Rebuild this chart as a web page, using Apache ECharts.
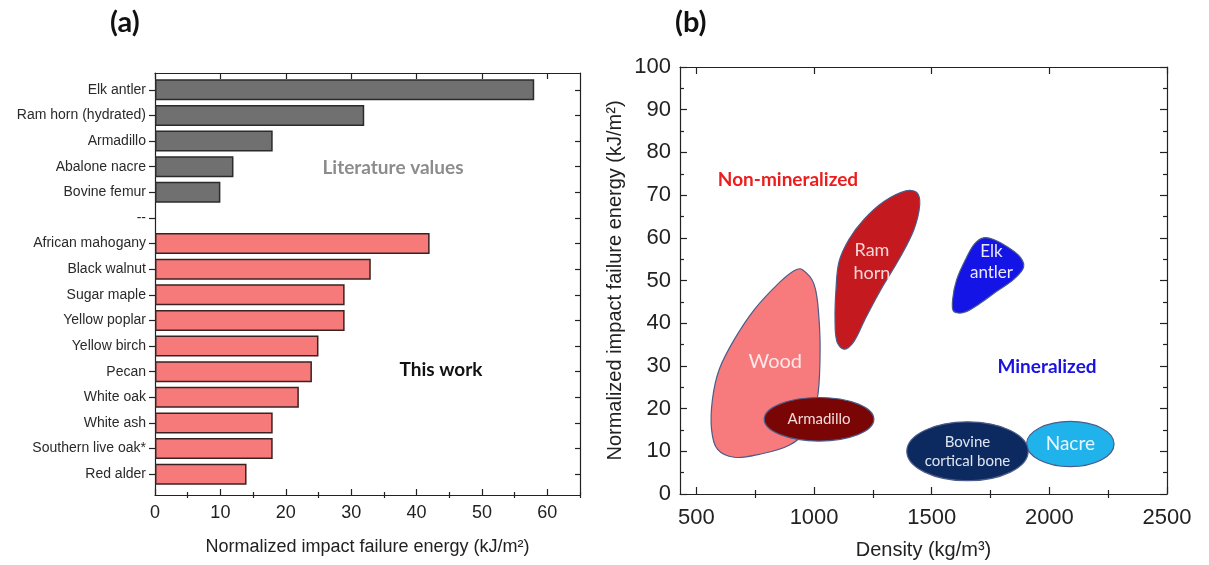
<!DOCTYPE html>
<html>
<head>
<meta charset="utf-8">
<script src="https://cdn.jsdelivr.net/npm/echarts@6/dist/echarts.min.js"></script>
<style>
  html, body { margin: 0; padding: 0; background: #ffffff; }
  #chart { width: 1209px; height: 565px; }
</style>
</head>
<body>
<div id="chart"></div>
<script>
// ---- Panel (a): normalized impact failure energy (kJ/m²) ----
const literatureNames = ['Elk antler', 'Ram horn (hydrated)', 'Armadillo', 'Abalone nacre', 'Bovine femur'];
const literatureValues = [58, 32, 18, 12, 10];
const separatorName = '--';
const thisWorkNames = ['African mahogany', 'Black walnut', 'Sugar maple', 'Yellow poplar', 'Yellow birch',
  'Pecan', 'White oak', 'White ash', 'Southern live oak*', 'Red alder'];
const thisWorkValues = [42, 33, 29, 29, 25, 24, 22, 18, 18, 14];
const energyTicks = [0, 10, 20, 30, 40, 50, 60];
const energyMinorTicks = [5, 15, 25, 35, 45, 55, 65];

// ---- Panel (b): regions in (density kg/m³, energy kJ/m²) ----
const densityTicks = [500, 1000, 1500, 2000, 2500];
const densityMinorTicks = [750, 1250, 1750, 2250];
const woodOutline = [[949, 52.6], [1000, 49.1], [1021, 40.9], [1025, 31.5], [1013, 22.2], [970, 15.2],
  [894, 11.4], [767, 9.3], [661, 8.6], [589, 10.5], [564, 15.2], [568, 22.2], [597, 29.2],
  [661, 36.2], [746, 43.2], [852, 49.5], [915, 52.3]];
const ramHornOutline = [[1390, 71.0], [1436, 70.6], [1449, 67.8], [1424, 61.9], [1360, 54.9], [1284, 47.9],
  [1216, 40.9], [1169, 35.7], [1127, 33.9], [1097, 35.7], [1089, 40.9], [1093, 47.9], [1106, 54.4],
  [1148, 59.6], [1212, 64.3], [1297, 68.5]];
const elkAntlerOutline = [[1720, 60.0], [1763, 59.6], [1826, 57.7], [1877, 55.4], [1890, 53.0], [1847, 50.2],
  [1775, 47.4], [1699, 44.4], [1636, 42.5], [1593, 42.8], [1589, 45.6], [1606, 50.2], [1648, 55.4], [1682, 58.6]];
// ellipses: [centre density, centre energy, half width, half height]
const armadilloEllipse = [1021, 17.5, 233, 5.1];
const nacreEllipse = [2089, 11.7, 186, 5.3];
const bovineBoneEllipse = [1652, 10.0, 258, 6.9];

const categories = [...literatureNames, separatorName, ...thisWorkNames];
const literatureSeries = literatureValues.concat(new Array(1 + thisWorkNames.length).fill('-'));
const thisWorkSeries = new Array(literatureNames.length + 1).fill('-').concat(thisWorkValues);

const AXIS_FONT = "'Liberation Sans', Arial, sans-serif";
const NOTE_FONT = "Lato, 'Open Sans', sans-serif";
const OUTLINE = '#4b5c8a';
const plain = v => String(v);

function tickAxis(gridIndex, position, min, max, ticks, len, extra) {
  return Object.assign({
    type: 'value', gridIndex, position, min, max,
    axisLine: { show: false },
    axisTick: { show: true, inside: true, length: len, customValues: ticks, lineStyle: { color: '#222', width: 1.2 } },
    axisLabel: { show: false },
    splitLine: { show: false }
  }, extra || {});
}

function regionLabel(api, at, text, size, color) {
  const p = api.coord(at);
  return {
    type: 'text', z2: 10,
    style: { text, x: p[0], y: p[1], fill: color, font: size + 'px ' + NOTE_FONT,
      align: 'center', verticalAlign: 'middle', lineHeight: size * 1.25 }
  };
}

function polygonRegion(name, outline, fill, labelAt, text, size, color) {
  return {
    type: 'custom', name, xAxisIndex: 5, yAxisIndex: 4, silent: true,
    data: [outline[0]],
    renderItem: (params, api) => ({
      type: 'group',
      children: [
        { type: 'polygon', shape: { points: outline.map(p => api.coord(p)), smooth: 0.35 },
          style: { fill, stroke: OUTLINE, lineWidth: 1.2 } },
        regionLabel(api, labelAt, text, size, color)
      ]
    })
  };
}

function ellipseRegion(name, e, fill, text, size, color) {
  return {
    type: 'custom', name, xAxisIndex: 5, yAxisIndex: 4, silent: true,
    data: [[e[0], e[1]]],
    renderItem: (params, api) => {
      const c = api.coord([e[0], e[1]]);
      const r = api.size([e[2], e[3]]);
      return {
        type: 'group',
        children: [
          { type: 'ellipse', shape: { cx: c[0], cy: c[1], rx: r[0], ry: r[1] },
            style: { fill, stroke: OUTLINE, lineWidth: 1.2 } },
          regionLabel(api, [e[0], e[1]], text, size, color)
        ]
      };
    }
  };
}

const chart = echarts.init(document.getElementById('chart'), null, { renderer: 'canvas' });

chart.setOption({
  backgroundColor: '#ffffff',
  animation: false,
  textStyle: { fontFamily: AXIS_FONT },
  grid: [
    { left: 155, top: 73, width: 425, height: 422 },
    { left: 155, top: 77, width: 425, height: 410 },
    { left: 680, top: 67, width: 487, height: 428 }
  ],
  xAxis: [
    // panel (a) frame
    tickAxis(0, 'bottom', 0, 65, energyTicks, 6, {
      axisLine: { show: true, onZero: false, lineStyle: { color: '#222', width: 1.2 } },
      axisLabel: { show: true, customValues: energyTicks, formatter: plain, fontSize: 18, color: '#222', margin: 9, fontFamily: AXIS_FONT },
      name: 'Normalized impact failure energy (kJ/m²)', nameLocation: 'middle', nameGap: 43,
      nameTextStyle: { fontSize: 18, color: '#222', fontFamily: AXIS_FONT }
    }),
    tickAxis(0, 'bottom', 0, 65, energyMinorTicks, 3),
    tickAxis(0, 'top', 0, 65, energyTicks, 6, {
      axisLine: { show: true, onZero: false, lineStyle: { color: '#222', width: 1.2 } }
    }),
    tickAxis(0, 'top', 0, 65, energyMinorTicks, 3),
    // panel (a) bars
    { type: 'value', gridIndex: 1, min: 0, max: 65, show: false },
    // panel (b)
    tickAxis(2, 'bottom', 430, 2500, densityTicks, 7, {
      axisLine: { show: true, onZero: false, lineStyle: { color: '#222', width: 1.2 } },
      axisLabel: { show: true, customValues: densityTicks, formatter: plain, fontSize: 22, color: '#222', margin: 13, fontFamily: AXIS_FONT },
      name: 'Density (kg/m³)', nameLocation: 'middle', nameGap: 46,
      nameTextStyle: { fontSize: 20, color: '#222', fontFamily: AXIS_FONT }
    }),
    tickAxis(2, 'bottom', 430, 2500, densityMinorTicks, 4),
    tickAxis(2, 'top', 430, 2500, densityTicks, 7, {
      axisLine: { show: true, onZero: false, lineStyle: { color: '#222', width: 1.2 } }
    }),
    tickAxis(2, 'top', 430, 2500, densityMinorTicks, 4)
  ],
  yAxis: [
    { type: 'value', gridIndex: 0, position: 'left', min: 0, max: 1,
      axisLine: { show: true, onZero: false, lineStyle: { color: '#222', width: 1.2 } },
      axisTick: { show: false }, axisLabel: { show: false }, splitLine: { show: false } },
    { type: 'value', gridIndex: 0, position: 'right', min: 0, max: 1,
      axisLine: { show: true, onZero: false, lineStyle: { color: '#222', width: 1.2 } },
      axisTick: { show: false }, axisLabel: { show: false }, splitLine: { show: false } },
    { type: 'category', gridIndex: 1, position: 'left', inverse: true, data: categories,
      axisLine: { show: false },
      axisTick: { show: true, inside: false, length: 6, alignWithLabel: true, lineStyle: { color: '#222', width: 1.2 } },
      axisLabel: { fontSize: 14, color: '#2a2a2a', margin: 9, fontFamily: AXIS_FONT },
      splitLine: { show: false } },
    { type: 'category', gridIndex: 1, position: 'right', inverse: true, data: categories,
      axisLine: { show: false },
      axisTick: { show: true, inside: true, length: 5, alignWithLabel: true, lineStyle: { color: '#222', width: 1.2 } },
      axisLabel: { show: false }, splitLine: { show: false } },
    { type: 'value', gridIndex: 2, position: 'left', min: 0, max: 100, interval: 10,
      axisLine: { show: true, onZero: false, lineStyle: { color: '#222', width: 1.2 } },
      axisTick: { show: true, inside: true, length: 7, lineStyle: { color: '#222', width: 1.2 } },
      minorTick: { show: true, splitNumber: 2, length: 4, lineStyle: { color: '#222', width: 1.2 } },
      axisLabel: { fontSize: 22, color: '#222', margin: 9, fontFamily: AXIS_FONT },
      splitLine: { show: false }, minorSplitLine: { show: false },
      name: 'Normalized impact failure energy (kJ/m²)', nameLocation: 'middle', nameGap: 55,
      nameTextStyle: { fontSize: 20, color: '#222', fontFamily: AXIS_FONT } },
    { type: 'value', gridIndex: 2, position: 'right', min: 0, max: 100, interval: 10,
      axisLine: { show: true, onZero: false, lineStyle: { color: '#222', width: 1.2 } },
      axisTick: { show: true, inside: true, length: 7, lineStyle: { color: '#222', width: 1.2 } },
      minorTick: { show: true, splitNumber: 2, length: 4, lineStyle: { color: '#222', width: 1.2 } },
      axisLabel: { show: false }, splitLine: { show: false }, minorSplitLine: { show: false } }
  ],
  series: [
    { type: 'bar', name: 'Literature values', xAxisIndex: 4, yAxisIndex: 2, data: literatureSeries,
      barWidth: 21, barGap: '-100%',
      itemStyle: { color: '#707070', borderColor: '#2b2b2b', borderWidth: 1.5 } },
    { type: 'bar', name: 'This work', xAxisIndex: 4, yAxisIndex: 2, data: thisWorkSeries,
      barWidth: 21, barGap: '-100%',
      itemStyle: { color: '#f77a7a', borderColor: '#3a2222', borderWidth: 1.5 } },

    polygonRegion('Wood', woodOutline, '#f77b7d', [835, 31.1], 'Wood', 20, '#fde8ea'),
    polygonRegion('Ram horn', ramHornOutline, '#c41a1f', [1246, 54.4], 'Ram\nhorn', 18, '#f6d6d6'),
    polygonRegion('Elk antler', elkAntlerOutline, '#1414e6', [1754, 54.4], 'Elk\nantler', 17, '#e8e8ff'),
    ellipseRegion('Armadillo', armadilloEllipse, '#7a0505', 'Armadillo', 15, '#f3dada'),
    ellipseRegion('Nacre', nacreEllipse, '#20b2ea', 'Nacre', 19, '#e6f6fd'),
    ellipseRegion('Bovine cortical bone', bovineBoneEllipse, '#0d2a60', 'Bovine\ncortical bone', 15, '#dfe6f2')
  ],
  graphic: [
    { type: 'text', left: 110, top: 8, style: { text: '(a)', font: 'bold 29px ' + NOTE_FONT, fill: '#111' } },
    { type: 'text', left: 675, top: 8, style: { text: '(b)', font: 'bold 29px ' + NOTE_FONT, fill: '#111' } },
    { type: 'text', x: 393, y: 168, style: { text: 'Literature values', font: 'bold 19px ' + NOTE_FONT,
      fill: '#8c8c8c', align: 'center', verticalAlign: 'middle' } },
    { type: 'text', x: 441, y: 370, style: { text: 'This work', font: 'bold 19px ' + NOTE_FONT,
      fill: '#111', align: 'center', verticalAlign: 'middle' } },
    { type: 'text', x: 788, y: 180, style: { text: 'Non-mineralized', font: 'bold 19px ' + NOTE_FONT,
      fill: '#ee1c1c', align: 'center', verticalAlign: 'middle' } },
    { type: 'text', x: 1047, y: 367, style: { text: 'Mineralized', font: 'bold 19px ' + NOTE_FONT,
      fill: '#1a12e0', align: 'center', verticalAlign: 'middle' } }
  ]
});
</script>
</body>
</html>
